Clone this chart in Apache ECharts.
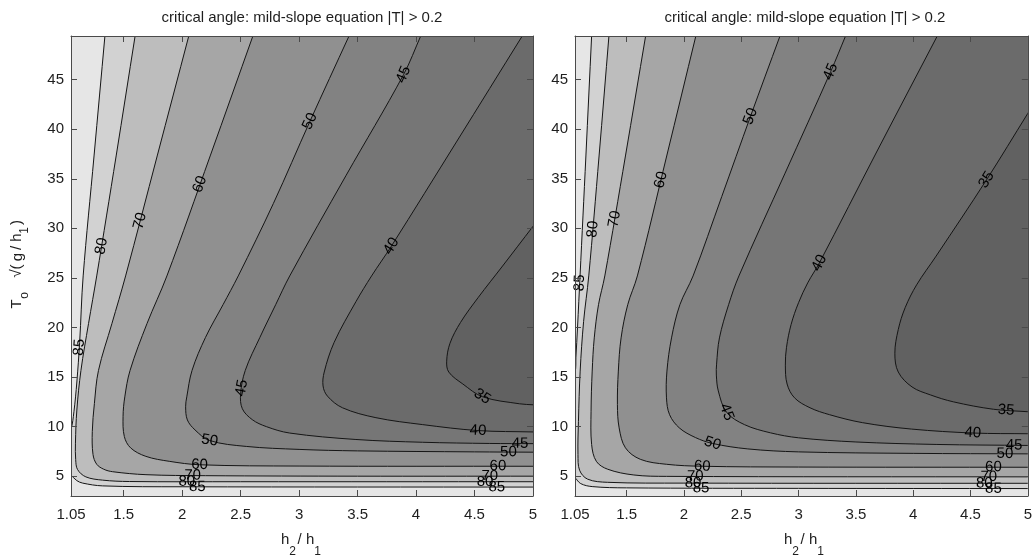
<!DOCTYPE html>
<html><head><meta charset="utf-8">
<script src="https://cdn.jsdelivr.net/npm/echarts@6/dist/echarts.min.js"></script>
<style>html,body{margin:0;padding:0;background:#fff}#c{width:1035px;height:558px}</style>
</head><body><div id="c"></div>
<script>
// ---------- axes / text ----------
const X_MIN = 1.05, X_MAX = 5, Y_MIN = 3, Y_MAX = 49.4;
const xTickValues = [1.05, 1.5, 2, 2.5, 3, 3.5, 4, 4.5, 5];
const yTickValues = [5, 10, 15, 20, 25, 30, 35, 40, 45];
const titleText = 'critical angle: mild-slope equation |T| > 0.2';
const levels = [85, 80, 70, 60, 50, 45, 40, 35];
const fillColors = ['#e6e6e6', '#d2d2d2', '#bdbdbd', '#a6a6a6', '#909090', '#828282', '#767676', '#6b6b6b', '#616161'];

// ---------- left panel contours (x = h2/h1, y = To*sqrt(g/h1)) ----------
const L85a = [[1.34,49.4],[1.247,37.3],[1.154,25.2],[1.124,18.5],[1.1,14.5],[1.075,11.5],[1.05,9.7]];
const L85b = [[1.05,5.1],[1.1,4.55],[1.15,4.3],[1.32,4.02],[2,3.93],[5,3.9]];
const L80 = [[1.598,49.4],[1.436,37.3],[1.27,25.2],[1.2,20.4],[1.135,15.67],[1.1,11.67],[1.088,8.33],[1.09,6.67],[1.106,5.67],[1.177,4.93],[1.32,4.6],[1.549,4.46],[2.5,4.44],[5,4.44]];
const L70 = [[2.057,49.4],[1.787,37.3],[1.517,25.2],[1.4,20.4],[1.285,15.67],[1.25,12.33],[1.232,9.5],[1.238,7.2],[1.27,6.2],[1.33,5.7],[1.406,5.45],[1.691,5.15],[2.2,5.05],[3.5,5.0],[5,5.0]];
const L60 = [[2.605,49.4],[2.24,37.3],[1.87,25.2],[1.7,20.4],[1.555,15.67],[1.51,13],[1.495,11],[1.506,9],[1.56,7.85],[1.69,7.0],[1.89,6.5],[2.15,6.15],[3,6.02],[5,6.0]];
const L50 = [[3.427,49.4],[3.093,40.8],[2.78,32.5],[2.48,25.2],[2.35,22.3],[2.2,19],[2.085,15.67],[2.04,13],[2.03,12],[2.045,10.67],[2.11,9.67],[2.234,8.6],[2.549,8.0],[3.0,7.7],[3.5,7.55],[4.5,7.45],[5,7.42]];
const L45 = [[4.04,49.4],[3.893,45.5],[3.4,35.3],[2.92,25.2],[2.8,22.3],[2.665,19],[2.54,15.67],[2.5,13.3],[2.515,11.8],[2.6,10.7],[2.72,10.0],[2.92,9.35],[3.486,8.7],[4.057,8.42],[4.63,8.3],[5,8.28]];
const L40 = [[4.908,49.4],[4.35,38.8],[3.789,28.2],[3.62,25.2],[3.486,22.6],[3.3,18.5],[3.215,15.5],[3.205,14.1],[3.243,13.07],[3.371,11.9],[3.657,10.9],[4.057,10.2],[4.53,9.6],[5,9.46]];
const L35 = [[5,30.2],[4.74,26.2],[4.53,23],[4.38,20.5],[4.29,18.4],[4.262,16.6],[4.28,15.5],[4.4,14.3],[4.571,13.0],[4.886,12.3],[5,12.2]];

// ---------- right panel contours ----------
const R85a = [[1.195,49.4],[1.145,37.3],[1.094,25.2],[1.072,20],[1.058,17],[1.05,15.5]];
const R85b = [[1.05,4.85],[1.1,4.25],[1.2,3.95],[1.5,3.82],[3,3.77],[5,3.75]];
const R80 = [[1.346,49.4],[1.26,37.3],[1.17,25.2],[1.125,20.6],[1.095,15.6],[1.08,10.5],[1.076,7.2],[1.09,5.6],[1.16,4.7],[1.335,4.38],[2,4.3],[5,4.28]];
const R70 = [[1.666,49.4],[1.49,37.3],[1.31,25.2],[1.255,22.3],[1.218,18.95],[1.2,15.6],[1.19,11.55],[1.195,8.2],[1.236,6.5],[1.335,5.7],[1.563,5.12],[1.85,4.98],[5,4.93]];
const R60 = [[2.104,49.4],[1.85,37.3],[1.594,25.2],[1.51,22.3],[1.452,18.95],[1.428,15.6],[1.42,12.23],[1.435,9.87],[1.49,7.86],[1.62,6.7],[1.847,6.2],[2.16,6.0],[3,5.92],[5,5.9]];
const R50 = [[2.838,49.4],[2.581,41.3],[2.33,33.2],[2.08,25.2],[1.965,22.3],[1.892,18.95],[1.852,15.6],[1.848,12.9],[1.875,11.2],[1.96,9.87],[2.1,8.9],[2.25,8.3],[2.557,7.75],[3.0,7.45],[4,7.3],[5,7.25]];
const R45 = [[3.41,49.4],[3.28,45.8],[2.88,35.5],[2.48,25.2],[2.39,22.3],[2.31,18.95],[2.285,16.3],[2.283,15.2],[2.3,13.6],[2.372,11.45],[2.528,10.2],[2.756,9.37],[3.0,8.87],[3.5,8.45],[4.2,8.2],[5,8.1]];
const R40 = [[4.21,49.4],[3.69,37.9],[3.181,26.5],[3.08,24.5],[3.0,22.5],[2.935,20.3],[2.895,18],[2.885,16.2],[2.9,14.3],[2.965,12.9],[3.1,11.9],[3.271,11.2],[3.557,10.4],[3.986,9.75],[4.529,9.35],[5,9.28]];
const R35 = [[5,41.6],[4.64,34.9],[4.2,27.2],[4.03,24.3],[3.93,22.0],[3.87,19.8],[3.84,17.4],[3.87,15.5],[3.99,14.0],[4.15,13.2],[4.35,12.5],[4.7,11.75],[5,11.5]];

// ---------- contour labels [x, y, level] ----------
const leftLabels = [
  [1.124,18,85],[1.31,28.2,80],[1.657,30.7,70],[2.161,34.4,60],[3.093,40.8,50],[3.893,45.5,45],[3.789,28.2,40],
  [2.51,13.9,45],[2.235,8.55,50],[2.15,6.1,60],[2.09,5.0,70],[2.04,4.44,80],[2.13,3.9,85],
  [4.56,12.9,35],[4.53,9.55,40],[4.89,8.28,45],[4.79,7.43,50],[4.70,6.0,60],[4.63,5.0,70],[4.59,4.44,80],[4.69,3.9,85]
];
const rightLabels = [
  [1.08,24.5,85],[1.214,29.9,80],[1.414,30.9,70],[1.795,34.9,60],[2.581,41.3,50],[3.28,45.8,45],[3.181,26.5,40],[4.64,34.9,35],
  [2.37,11.45,45],[2.25,8.3,50],[2.16,6.0,60],[2.1,4.95,70],[2.08,4.3,80],[2.15,3.78,85],
  [4.81,11.5,35],[4.52,9.35,40],[4.88,8.1,45],[4.8,7.25,50],[4.7,5.9,60],[4.66,4.93,70],[4.62,4.28,80],[4.7,3.75,85]
];

// ---------- assembly ----------
const FONT = '"Liberation Sans", Arial, Helvetica, sans-serif';
const LINE = '#151515', BORDER = '#4a4a4a', TXT = '#1e1e1e';
const SMOOTH = 0.35;

const leftPieces = {85:[L85a, L85b], 80:[L80], 70:[L70], 60:[L60], 50:[L50], 45:[L45], 40:[L40], 35:[L35]};
const rightPieces = {85:[R85a, R85b], 80:[R80], 70:[R70], 60:[R60], 50:[R50], 45:[R45], 40:[R40], 35:[R35]};

function near(a, b) { return Math.abs(a - b) < 1e-6; }
function outward(p, q) { // extension point beyond the plot edge, continuing p away from q
  const e = [p[0] + (p[0] - q[0]), p[1] + (p[1] - q[1])];
  if (near(p[1], Y_MAX)) e[1] = Math.max(e[1], Y_MAX + 1.5);
  if (near(p[0], X_MAX)) e[0] = Math.max(e[0], X_MAX + 0.12);
  if (near(p[0], X_MIN)) e[0] = Math.min(e[0], X_MIN - 0.06);
  return e;
}
function extended(pc) {
  const n = pc.length;
  return [outward(pc[0], pc[1])].concat(pc, [outward(pc[n - 1], pc[n - 2])]);
}
function regionPolygon(pieces) {
  let pts = [];
  pieces.forEach(pc => { pts = pts.concat(extended(pc)); });
  const first = pieces[0][0];
  if (near(first[1], Y_MAX)) pts.push([X_MAX + 1, Y_MAX + 10]);
  return pts;
}

function fillRender(pieceMap) {
  return function (params, api) {
    const cs = params.coordSys;
    const children = [];
    levels.forEach((lv, i) => {
      const poly = regionPolygon(pieceMap[lv]).map(p => api.coord(p));
      children.push({ type: 'polygon', z2: i + 1, shape: { points: poly, smooth: SMOOTH },
        style: { fill: fillColors[i + 1], stroke: null } });
    });
    levels.forEach(lv => {
      pieceMap[lv].forEach(pc => {
        const pts = extended(pc).map(p => api.coord(p));
        children.push({ type: 'polyline', z2: 50, shape: { points: pts, smooth: SMOOTH },
          style: { stroke: LINE, lineWidth: 1, fill: null } });
      });
    });
    return { type: 'group', clipPath: { type: 'rect', shape: { x: cs.x, y: cs.y, width: cs.width, height: cs.height } },
      children: children };
  };
}

function labelRender(pieceMap) {
  return function (params, api) {
    const lv = api.value(2);
    const p = api.coord([api.value(0), api.value(1)]);
    let best = null;
    pieceMap[lv].forEach(pc => {
      const px = pc.map(q => api.coord(q));
      for (let i = 0; i < px.length - 1; i++) {
        const a = px[i], b = px[i + 1];
        const dx = b[0] - a[0], dy = b[1] - a[1];
        const L2 = dx * dx + dy * dy || 1;
        let t = ((p[0] - a[0]) * dx + (p[1] - a[1]) * dy) / L2;
        t = Math.max(0, Math.min(1, t));
        const q = [a[0] + t * dx, a[1] + t * dy];
        const d = Math.hypot(q[0] - p[0], q[1] - p[1]);
        if (!best || d < best.d) best = { d: d, q: q, dx: dx, dy: dy };
      }
    });
    let rot = -Math.atan2(best.dy, best.dx);
    while (rot > Math.PI / 2) rot -= Math.PI;
    while (rot <= -Math.PI / 2) rot += Math.PI;
    return { type: 'text', x: best.q[0], y: best.q[1], rotation: rot, z2: 60,
      style: { text: String(lv), fontSize: 15, fontFamily: FONT, fill: '#000',
        align: 'center', verticalAlign: 'middle', textAlign: 'center', textVerticalAlign: 'middle' } };
  };
}

function xAx(grid, pos, showLabels) {
  return { type: 'value', gridIndex: grid, position: pos, min: X_MIN, max: X_MAX, z: 10,
    axisLine: { show: true, onZero: false, lineStyle: { color: BORDER, width: 1 } },
    axisTick: { show: true, inside: true, length: 6, customValues: xTickValues, lineStyle: { color: BORDER } },
    axisLabel: { show: showLabels, customValues: xTickValues, margin: 11, fontSize: 15, color: TXT, fontFamily: FONT,
      alignMinLabel: 'center', alignMaxLabel: 'center' },
    splitLine: { show: false } };
}
function yAx(grid, pos, showLabels) {
  return { type: 'value', gridIndex: grid, position: pos, min: Y_MIN, max: Y_MAX, z: 10,
    axisLine: { show: true, onZero: false, lineStyle: { color: BORDER, width: 1 } },
    axisTick: { show: true, inside: true, length: 6, customValues: yTickValues, lineStyle: { color: BORDER } },
    axisLabel: { show: showLabels, customValues: yTickValues, margin: 7, fontSize: 15, color: TXT, fontFamily: FONT },
    splitLine: { show: false } };
}

const GRIDS = [
  { left: 71, top: 36, width: 462, height: 460 },
  { left: 575, top: 36, width: 461, height: 460 }
];

function txt(t, x, y, size, rot, align) {
  return { type: 'text', x: x, y: y, rotation: rot || 0, z: 20,
    style: { text: t, fontSize: size, fontFamily: FONT, fill: TXT,
      align: align || 'center', verticalAlign: 'middle', textAlign: align || 'center', textVerticalAlign: 'middle' } };
}
function xName(cx) {
  const s = cx - 21;
  return [
    txt('h', s, 540, 15, 0, 'left'),
    txt('2', s + 8.3, 552, 12, 0, 'left'),
    txt('/', s + 18.5, 540, 15, 0, 'center'),
    txt('h', s + 25, 540, 15, 0, 'left'),
    txt('1', s + 33.3, 552, 12, 0, 'left')
  ];
}
const R90 = Math.PI / 2;
const graphics = [
  txt(titleText, 302, 18, 15),
  txt(titleText, 805, 18, 15),
  ...xName(302), ...xName(805),
  txt('T', 17, 304, 15, R90), txt('o', 25, 295.5, 12, R90),
  txt('\u221A(', 17, 271, 15, R90), txt('g', 18, 257, 15, R90), txt('/', 17, 248, 15, R90),
  txt('h', 17, 237.5, 15, R90), txt('1', 25, 230.5, 12, R90), txt(')', 17, 222.5, 15, R90)
];

const chart = echarts.init(document.getElementById('c'), null, { renderer: 'canvas' });
chart.setOption({
  animation: false,
  backgroundColor: '#ffffff',
  grid: GRIDS.map(g => Object.assign({ show: true, backgroundColor: fillColors[0], borderWidth: 0 }, g)),
  xAxis: [xAx(0, 'bottom', true), xAx(0, 'top', false), xAx(1, 'bottom', true), xAx(1, 'top', false)],
  yAxis: [yAx(0, 'left', true), yAx(0, 'right', false), yAx(1, 'left', true), yAx(1, 'right', false)],
  graphic: { elements: graphics },
  series: [
    { type: 'custom', xAxisIndex: 0, yAxisIndex: 0, z: 1, silent: true, renderItem: fillRender(leftPieces), data: [[X_MIN, Y_MIN]] },
    { type: 'custom', xAxisIndex: 0, yAxisIndex: 0, z: 3, silent: true, renderItem: labelRender(leftPieces), data: leftLabels },
    { type: 'custom', xAxisIndex: 2, yAxisIndex: 2, z: 1, silent: true, renderItem: fillRender(rightPieces), data: [[X_MIN, Y_MIN]] },
    { type: 'custom', xAxisIndex: 2, yAxisIndex: 2, z: 3, silent: true, renderItem: labelRender(rightPieces), data: rightLabels }
  ]
});
</script>
</body></html>
